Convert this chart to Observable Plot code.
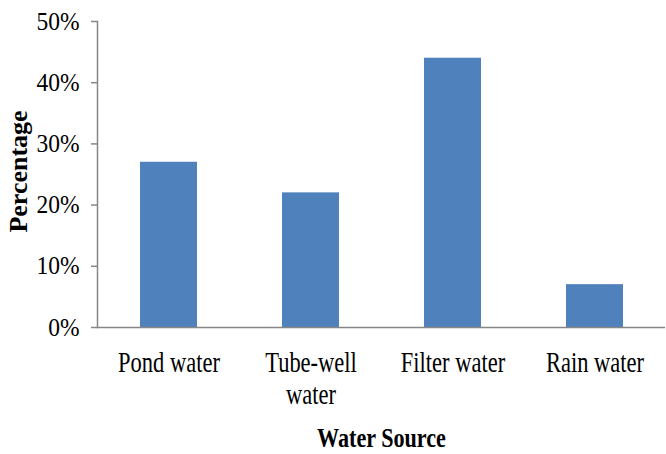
<!DOCTYPE html>
<html>
<head>
<meta charset="utf-8">
<script src="https://cdn.jsdelivr.net/npm/d3@7"></script>
<script src="https://cdn.jsdelivr.net/npm/@observablehq/plot@0.6"></script>
<style>
  html, body { margin: 0; padding: 0; background: #fff; }
  #chart svg { display: block; }
</style>
</head>
<body>
<div id="chart"></div>
<script>
const categories = ["Pond water", "Tube-well water", "Filter water", "Rain water"];
const categoryLabels = ["Pond water", "Tube-well\nwater", "Filter water", "Rain water"];
const values = [0.27, 0.22, 0.44, 0.07];
const yTickValues = [0, 0.1, 0.2, 0.3, 0.4, 0.5];
const yTickLabels = ["0%", "10%", "20%", "30%", "40%", "50%"];
const xTitle = "Water Source";
const yTitle = "Percentage";

const data = categories.map((c, i) => ({source: c, pct: values[i]}));
const serif = '"Liberation Serif", "Times New Roman", Times, serif';
const axisGray = "#868686";

const chart = Plot.plot({
  width: 666,
  height: 454,
  marginLeft: 97,
  marginRight: 1,
  marginTop: 21,
  marginBottom: 127,
  style: {fontFamily: serif, color: "#000", background: "#fff", overflow: "visible"},
  x: {domain: categories, paddingInner: 0.6, paddingOuter: 0.3, label: null},
  y: {domain: [0, 0.5], label: null},
  marks: [
    Plot.barY(data, {x: "source", y: "pct", fill: "#4f81bd"}),
    Plot.frame({anchor: "left", stroke: axisGray, strokeWidth: 1.5}),
    Plot.ruleY([0], {stroke: axisGray, strokeWidth: 1.5}),
    Plot.axisY({
      ticks: yTickValues,
      tickFormat: d => yTickLabels[yTickValues.indexOf(d)],
      tickSize: 6,
      tickPadding: 12,
      stroke: axisGray,
      strokeWidth: 1.5,
      fontSize: 25,
      label: null
    }),
    Plot.axisX({
      tickSize: 0,
      tickPadding: 22,
      tickFormat: d => categoryLabels[categories.indexOf(d)],
      fontSize: 30,
      lineHeight: 1.07,
      label: null
    }),
    Plot.text([yTitle], {
      text: d => d,
      frameAnchor: "left",
      textAnchor: "middle",
      rotate: -90,
      dx: -79,
      dy: -3,
      fontSize: 26,
      fontWeight: "bold"
    }),
    Plot.text([xTitle], {
      text: d => d,
      frameAnchor: "bottom",
      dy: 119,
      fontSize: 27,
      fontWeight: "bold"
    })
  ]
});

document.getElementById("chart").appendChild(chart);

// Horizontally condense text around its anchor point (reference text looks narrow)
function condense(selection, s) {
  selection.each(function() {
    const t = this.getAttribute("transform");
    if (t) {
      this.setAttribute("transform", t + ` scale(${s},1)`);
    } else {
      const x = +this.getAttribute("x") || 0;
      const y = +this.getAttribute("y") || 0;
      this.setAttribute("transform", `translate(${x},${y}) scale(${s},1) translate(${-x},${-y})`);
    }
  });
}
const svg = d3.select(chart);
condense(svg.selectAll('g[aria-label="x-axis tick label"] text'), 0.75);
condense(svg.selectAll('g[aria-label="y-axis tick label"] text'), 0.94);
condense(svg.selectAll("text").filter(function() { return this.textContent === xTitle; }), 0.82);
</script>
</body>
</html>
